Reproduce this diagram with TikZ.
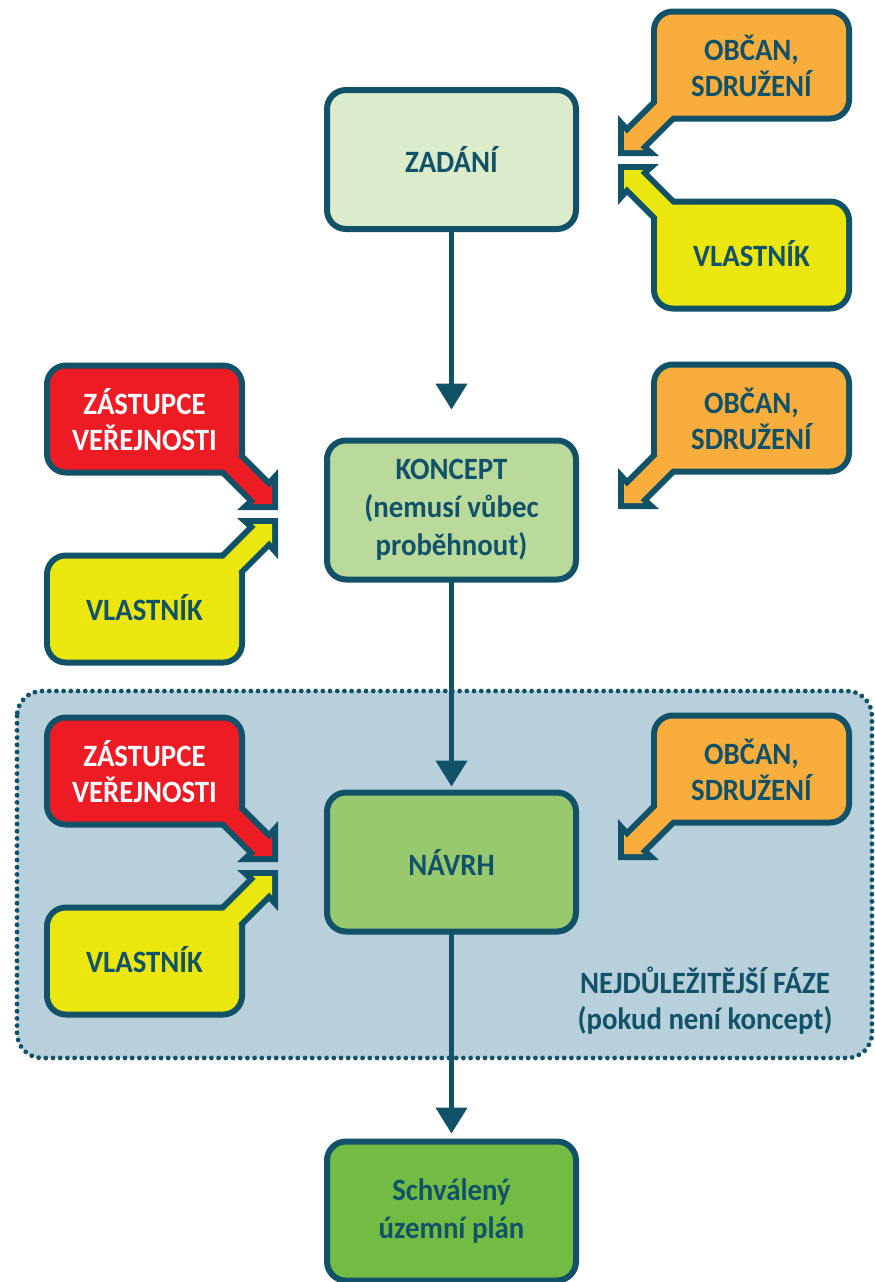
\documentclass[tikz,border=0pt]{standalone}
\usepackage{fontspec}
\setmainfont{Carlito}[FakeStretch=0.93]
\usetikzlibrary{arrows.meta}
\definecolor{ink}{RGB}{18,82,105}
\definecolor{pz}{RGB}{220,235,201}
\definecolor{pk}{RGB}{186,218,155}
\definecolor{pn}{RGB}{152,201,110}
\definecolor{ps}{RGB}{115,188,68}
\definecolor{cor}{RGB}{249,173,61}
\definecolor{cye}{RGB}{235,231,14}
\definecolor{cre}{RGB}{237,28,36}
\definecolor{pan}{RGB}{184,208,220}
\tikzset{
  ctext/.style={font=\fontsize{31pt}{36pt}\selectfont\bfseries, align=center, text=ink, inner sep=0pt},
  mainbox/.style={draw=ink, line width=6pt, rounded corners=19pt, minimum width=249pt, minimum height=139pt,
    outer sep=0pt, inner sep=0pt, align=center, font=\fontsize{31pt}{38pt}\selectfont\bfseries, text=ink},
  flowarrow/.style={draw=ink, line width=4.5pt, -{Triangle[width=31pt,length=26pt]}},
  panelbox/.style={fill=pan, draw=ink, line width=4.8pt, dash pattern=on 0pt off 7.2pt, line cap=round, rounded corners=25pt}
}
% #1 name, #2 #3 corner, #4 #5 direction, #6 fill, #7 text colour, #8 text
\newcommand\mycallout[8]{%
\begin{scope}[shift={(#2,#3)}, xscale=#4, yscale=#5]
  \draw[line width=12pt, ink, rounded corners=16pt] (39,40.5) rectangle (228,141.5);
  \draw[line width=12pt, ink] (6,6) -- (25.4,6) -- (22.3,8.8) -- (80,66.5) -- (66.5,80) -- (8.8,22.3) -- (6,25.4) -- cycle;
  \fill[#6, rounded corners=16pt] (39,40.5) rectangle (228,141.5);
  \fill[#6] (6,6) -- (25.4,6) -- (22.3,8.8) -- (80,66.5) -- (66.5,80) -- (8.8,22.3) -- (6,25.4) -- cycle;
  \node[ctext, text=#7] (#1) at (133.5,90) {#8};
\end{scope}}
\begin{document}
\begin{tikzpicture}[x=1pt, y=-1pt]
\useasboundingbox (0,0) rectangle (875,1282);
\fill[white] (0,0) rectangle (875,1282);
% important phase panel
\path[panelbox] (17,691) rectangle (872,1058);
% main boxes
\node[mainbox, fill=pz] (zad) at (451.5,159.5) {ZADÁNÍ};
\node[mainbox, fill=pk] (kon) at (451.5,510) {KONCEPT\\(nemusí vůbec\\proběhnout)};
\node[mainbox, fill=pn] (nav) at (451.5,862) {NÁVRH};
\node[mainbox, fill=ps] (sch) at (451.5,1211) {Schválený\\územní plán};
% flow arrows
\draw[flowarrow, shorten >=31pt] (zad.south) -- (kon.north);
\draw[flowarrow, shorten >=6pt] (kon.south) -- (nav.north);
\draw[flowarrow, shorten >=8pt] (nav.south) -- (sch.north);
% callouts
\mycallout{c1}{618}{156}{1}{-1}{cor}{ink}{OBČAN,\\SDRUŽENÍ}
\mycallout{c2}{618}{164}{1}{1}{cye}{ink}{VLASTNÍK}
\mycallout{c3}{618}{509}{1}{-1}{cor}{ink}{OBČAN,\\SDRUŽENÍ}
\mycallout{c4}{278}{510}{-1}{-1}{cre}{white}{ZÁSTUPCE\\VEŘEJNOSTI}
\mycallout{c5}{278}{518}{-1}{1}{cye}{ink}{VLASTNÍK}
\mycallout{c6}{618}{860}{1}{-1}{cor}{ink}{OBČAN,\\SDRUŽENÍ}
\mycallout{c7}{278}{862}{-1}{-1}{cre}{white}{ZÁSTUPCE\\VEŘEJNOSTI}
\mycallout{c8}{278}{870}{-1}{1}{cye}{ink}{VLASTNÍK}
% panel label
\node[ctext] (imp) at (705,1001) {NEJDŮLEŽITĚJŠÍ FÁZE\\(pokud není koncept)};
\end{tikzpicture}
\end{document}
